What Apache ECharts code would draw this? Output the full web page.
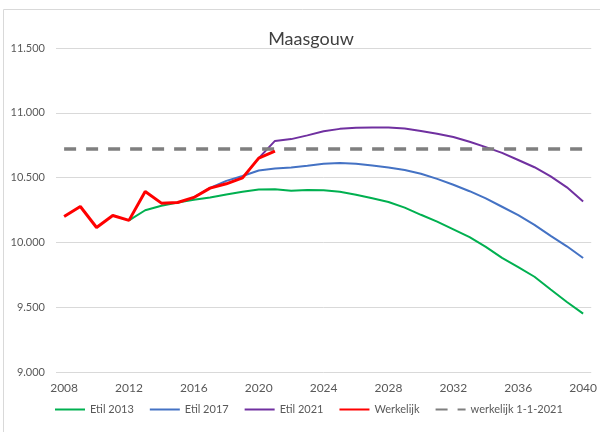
<!DOCTYPE html>
<html lang="nl">
<head>
<meta charset="UTF-8">
<title>Maasgouw</title>
<script src="https://cdn.jsdelivr.net/npm/echarts@6/dist/echarts.min.js"></script>
<style>
  html, body { margin: 0; padding: 0; background: #fff; }
  #main { width: 600px; height: 432px; }
</style>
</head>
<body>
<div id="main"></div>
<script type="text/javascript">
// jaren 2008 t/m 2040
var years = [];
for (var y = 2008; y <= 2040; y++) years.push(String(y));

var werkelijk = [10200, 10277, 10115, 10208, 10170, 10393, 10303, 10308, 10347, 10419, 10452, 10498, 10650, 10705];
// Etil 2013 vanaf 2012
var etil2013 = [10170, 10248, 10283, 10308, 10329, 10347, 10370, 10390, 10408, 10410, 10398, 10405, 10402, 10390,
    10367, 10340, 10312, 10268, 10213, 10160, 10100, 10040, 9965, 9880, 9810, 9735, 9636, 9540, 9450];
// Etil 2017 vanaf 2016
var etil2017 = [10347, 10420, 10475, 10512, 10555, 10570, 10578, 10591, 10606, 10612, 10606, 10593, 10578,
    10558, 10530, 10490, 10445, 10395, 10340, 10275, 10210, 10135, 10050, 9970, 9880];
// Etil 2021 vanaf 2020
var etil2021 = [10650, 10783, 10797, 10826, 10857, 10876, 10884, 10886, 10886, 10878, 10860, 10839, 10813,
    10777, 10735, 10691, 10636, 10580, 10510, 10425, 10315];
var werkelijk2021 = 10720;

var yTicks = [9000, 9500, 10000, 10500, 11000, 11500];

function fromYear(start, arr) {
    var out = [];
    for (var i = 0; i < years.length; i++) {
        var k = Number(years[i]) - start;
        out.push(k >= 0 && k < arr.length ? arr[k] : null);
    }
    return out;
}

function fmt(v) {
    var s = String(v);
    if (s.length > 3) s = s.slice(0, s.length - 3) + '.' + s.slice(s.length - 3);
    return s;
}

var font = 'Lato, "Liberation Sans", sans-serif';
var myChart = echarts.init(document.getElementById('main'));
var option = {
    animation: false,
    color: ['#00B050', '#4472C4', '#7030A0', '#FF0000', '#7F7F7F'],
    textStyle: { fontFamily: font },
    title: {
        text: 'Maasgouw',
        left: 306,
        top: 25,
        textAlign: 'center',
        textStyle: { fontFamily: font, fontSize: 18, fontWeight: 'normal', color: '#404040' }
    },
    graphic: [{
        type: 'rect',
        shape: { x: 3.5, y: 9.5, width: 700, height: 500 },
        style: { fill: 'none', stroke: '#D9D9D9', lineWidth: 1 },
        silent: true
    }],
    legend: {
        left: 49,
        top: 399,
        itemWidth: 30,
        itemHeight: 12,
        itemGap: 15,
        itemStyle: { opacity: 0 },
        textStyle: { fontFamily: font, fontSize: 11, color: '#595959' },
        data: ['Etil 2013', 'Etil 2017', 'Etil 2021', 'Werkelijk', 'werkelijk 1-1-2021']
    },
    grid: { left: 56, right: 6, top: 48, bottom: 60 },
    xAxis: {
        type: 'category',
        data: years,
        boundaryGap: true,
        axisLine: { show: false },
        axisTick: { show: false },
        axisLabel: { interval: 3, fontFamily: font, fontSize: 12, color: '#595959', margin: 10 }
    },
    yAxis: {
        type: 'value',
        min: yTicks[0],
        max: yTicks[yTicks.length - 1],
        interval: 500,
        axisLine: { show: false },
        axisTick: { show: false },
        axisLabel: { fontFamily: font, fontSize: 11, color: '#595959', margin: 11, formatter: fmt },
        splitLine: { lineStyle: { color: '#D9D9D9', width: 1 } }
    },
    series: [
        { name: 'Etil 2013', type: 'line', symbol: 'none', data: fromYear(2012, etil2013), lineStyle: { width: 2 }, z: 2 },
        { name: 'Etil 2017', type: 'line', symbol: 'none', data: fromYear(2016, etil2017), lineStyle: { width: 2 }, z: 2 },
        { name: 'Etil 2021', type: 'line', symbol: 'none', data: fromYear(2020, etil2021), lineStyle: { width: 2 }, z: 2 },
        { name: 'Werkelijk', type: 'line', symbol: 'none', data: fromYear(2008, werkelijk), lineStyle: { width: 3 }, z: 4 },
        { name: 'werkelijk 1-1-2021', type: 'line', symbol: 'none',
          data: years.map(function () { return werkelijk2021; }),
          lineStyle: { width: 3.5, type: [12, 10] }, z: 3 }
    ]
};
myChart.setOption(option);
</script>
</body>
</html>
